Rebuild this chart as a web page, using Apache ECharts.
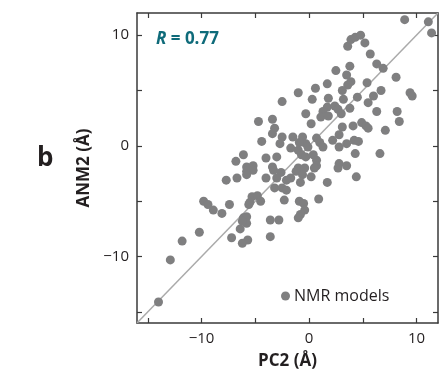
<!DOCTYPE html>
<html>
<head>
<meta charset="utf-8">
<script src="https://cdn.jsdelivr.net/npm/echarts@6/dist/echarts.min.js"></script>
<style>
  html, body { margin: 0; padding: 0; background: #fff; }
  #main { width: 441px; height: 375px; }
</style>
</head>
<body>
<div id="main"></div>
<script>
// PC2 (x) vs ANM2 (y) values
var pc2 = [
  8.9, 11.1, 11.4, 3.6, 3.9, 4.3, 4.8, 5.2, 5.7, 6.3, 6.9, 8.1, 9.4, 9.6, 2.5, 3.8, 3.5, 3.9, 3.6, 3.1,
  5.4, 6.7, 6.0, 5.5, 4.5, 3.2, 1.7, 0.6, -1.0, -2.5, 0.3, 1.8, 1.7, 2.4, 2.7, 3.8, 3.0, 1.3, 1.1, -0.3,
  0.2, 1.8, 3.1, 4.1, 4.9, 5.3, 5.5, 6.3, 7.1, 8.2, 8.4, 2.8, -3.4, -3.2, -3.4, -2.5, -1.5, -0.6, -0.3, 0.7,
  1.0, 1.3, 2.2, 2.8, 3.5, 4.2, 4.6, 4.3, 6.6, -2.7, -1.7, -1.0, -0.7, -0.1, -0.3, 0.4, 0.7, 0.7, -3.0, -3.4,
  -1.0, 2.8, 3.5, 2.7, -4.7, -4.4, -6.1, -6.8, -5.2, -5.8, -4.0, -0.9, -5.8, -5.2, -3.3, -2.6, -1.2, -0.4, 0.5, -1.7,
  0.2, -7.7, -6.7, -4.0, -3.0, -5.8, -2.1, -0.6, -0.8, -3.2, -2.5, -2.1, -9.8, -9.4, -8.9, -7.4, -8.1, -5.3, -4.8, -5.5,
  -4.5, -5.6, -2.3, -0.9, -0.5, -0.4, -0.8, -1.0, 0.9, -6.1, -5.8, -5.8, -6.2, -6.4, -3.6, -2.8, -10.2, -11.8, -7.2, -5.7,
  -6.2, -3.6, -14.0, -12.9, 1.7, 4.4
];
var anm2 = [
  11.4, 11.2, 10.2, 9.0, 9.6, 9.8, 10.0, 9.3, 8.3, 7.4, 7.0, 6.2, 4.8, 4.5, 6.8, 7.2, 6.4, 5.8, 5.5, 5.0,
  5.7, 5.0, 4.5, 3.9, 4.4, 4.2, 5.6, 5.2, 4.8, 4.0, 4.2, 4.3, 3.5, 3.6, 3.3, 3.4, 2.9, 3.1, 2.6, 2.9,
  2.0, 2.7, 1.7, 1.8, 2.1, 1.8, 1.6, 3.1, 1.4, 3.1, 2.2, 1.0, 2.4, 1.6, 1.1, 0.8, 0.8, 0.8, 0.2, 0.7,
  0.3, -0.1, 0.5, -0.1, 0.2, 0.5, 0.4, -0.7, -0.7, 0.2, -0.2, -0.4, -0.8, -0.1, -1.0, -0.8, -1.3, -1.8, -1.0, -1.9,
  -2.0, -1.6, -1.8, -2.0, 2.2, 0.4, -0.8, -1.4, -1.8, -1.9, -1.1, 0.3, -2.3, -2.2, -2.2, -2.4, -2.3, -2.0, -2.0, -2.9,
  -2.8, -3.1, -2.9, -2.9, -2.9, -2.6, -3.1, -2.6, -3.3, -3.8, -3.8, -4.0, -5.0, -5.3, -5.8, -5.3, -6.1, -4.6, -4.5, -5.1,
  -5.0, -5.3, -4.9, -5.0, -5.2, -5.8, -6.2, -6.5, -4.8, -6.5, -6.4, -7.0, -6.8, -7.5, -6.7, -6.7, -7.8, -8.6, -8.3, -8.5,
  -8.8, -8.2, -14.1, -10.3, -3.3, -2.8
];
var diagonal = [[-16, -16], [12, 12]];
var tickValues = [-15, -10, -5, 0, 5, 10];
var labelValues = [-10, 0, 10];
var rValue = '0.77';

var points = pc2.map(function (x, i) { return [x, anm2[i]]; });

var font = 'Open Sans';
var axisColor = '#3a3a3a';

function makeAxis(pos, name, show) {
  return {
    type: 'value',
    position: pos,
    min: -16,
    max: 12,
    name: show ? name : '',
    nameLocation: 'middle',
    nameGap: pos === 'bottom' ? 30 : 36,
    nameTextStyle: { fontFamily: font, fontSize: 17, fontWeight: 'bold', color: '#231f20' },
    axisLine: { show: true, onZero: false, lineStyle: { color: axisColor, width: 1.5 } },
    axisTick: { show: true, inside: true, length: 5, customValues: tickValues, lineStyle: { color: axisColor, width: 1.2 } },
    axisLabel: {
      show: show,
      customValues: labelValues,
      margin: 8,
      fontFamily: font,
      fontSize: 15,
      color: '#231f20',
      formatter: function (v) { return String(v).replace('-', '\u2212'); }
    },
    splitLine: { show: false }
  };
}

var chart = echarts.init(document.getElementById('main'));
var option = {
  backgroundColor: '#fff',
  animation: false,
  grid: { left: 137, right: 3, top: 13, bottom: 52 },
  xAxis: [makeAxis('bottom', 'PC2 (Å)', true), makeAxis('top', '', false)],
  yAxis: [makeAxis('left', 'ANM2 (Å)', true), makeAxis('right', '', false)],
  legend: {
    left: 276,
    top: 283,
    icon: 'circle',
    itemWidth: 9,
    itemHeight: 9,
    itemGap: 4,
    textStyle: { fontFamily: font, fontSize: 16, color: '#231f20', padding: [0, 0, 0, -1] },
    data: ['NMR models']
  },
  graphic: [
    {
      type: 'text',
      left: 156,
      top: 31,
      style: {
        text: '{r|R}{t| = ' + rValue + '}',
        rich: {
          r: { fontFamily: font, fontSize: 17, fontWeight: 'bold', fontStyle: 'italic', fill: '#0f6b7a' },
          t: { fontFamily: font, fontSize: 17, fontWeight: 'bold', fill: '#0f6b7a' }
        }
      }
    },
    {
      type: 'text',
      left: 37,
      top: 146,
      style: { text: 'b', fontFamily: font, fontSize: 26, fontWeight: 'bold', fill: '#231f20' }
    }
  ],
  series: [
    {
      type: 'line',
      data: diagonal,
      symbol: 'none',
      silent: true,
      z: 1,
      lineStyle: { color: '#aaaaaa', width: 1.5 }
    },
    {
      name: 'NMR models',
      type: 'scatter',
      data: points,
      symbolSize: 9,
      z: 2,
      itemStyle: { color: '#7f7f80', opacity: 1 }
    }
  ]
};
chart.setOption(option);
</script>
</body>
</html>
